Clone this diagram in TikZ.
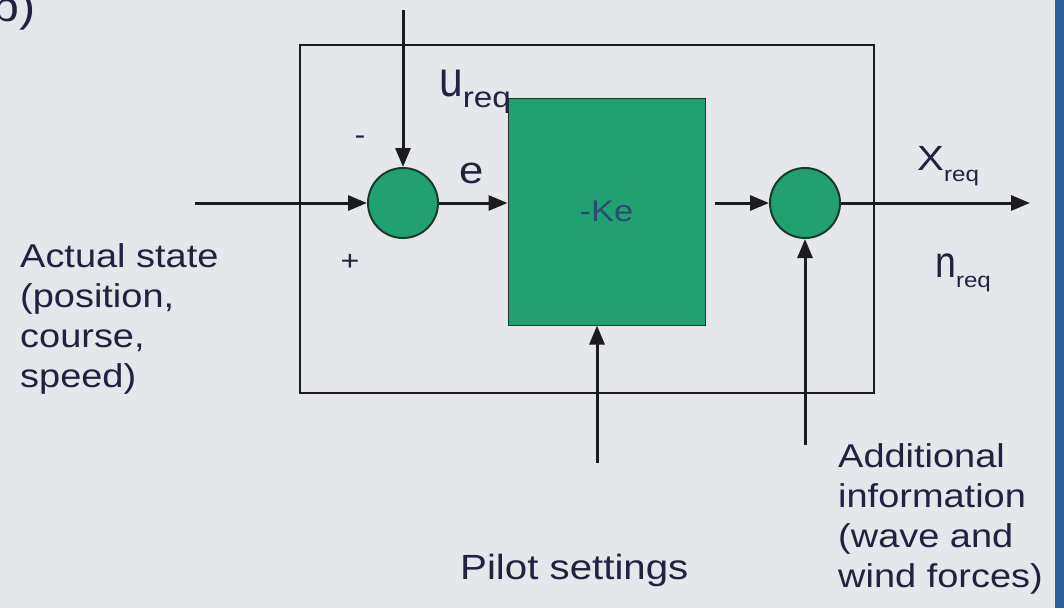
\documentclass[tikz,border=0pt]{standalone}
\usepackage{fontspec}
\setmainfont{Liberation Sans}[FakeStretch=1.15]
\newfontfamily\narrowfont{Liberation Sans}[FakeStretch=0.85]
\usetikzlibrary{arrows.meta}
\definecolor{bg}{HTML}{E5E7EB}
\definecolor{strip}{HTML}{2D5E9A}
\definecolor{gfill}{HTML}{21A072}
\definecolor{gedge}{HTML}{1A3A2C}
\definecolor{ink}{HTML}{22223F}
\definecolor{kelab}{HTML}{2C4C6C}
\definecolor{linec}{HTML}{1C1C1C}
\tikzset{
  arr/.style={line width=3pt, draw=linec, -{Triangle[length=19pt,width=15pt]}},
  sum/.style={circle, minimum size=70pt, inner sep=0pt, fill=gfill, draw=gedge, line width=2pt},
  gbox/.style={rectangle, fill=gfill, draw=gedge, line width=1pt, inner sep=0pt, text=kelab,
    font=\fontsize{30}{30}\selectfont},
  lbl/.style={text=ink, inner sep=0pt, font=\fontsize{33}{40}\selectfont, align=left},
  sgn/.style={text=ink, inner sep=0pt, font=\fontsize{28}{28}\selectfont}
}
\begin{document}
\begin{tikzpicture}[x=1pt,y=-1pt]
\useasboundingbox (0,0) rectangle (1064,608);
\clip (0,0) rectangle (1064,608);
\fill[bg] (0,0) rectangle (1064,608);
\fill[strip] (1055,0) rectangle (1064,608);
% partially cut corner label
\node[text=ink, inner sep=0pt, anchor=base west, font=\fontsize{42}{42}\selectfont] (corner) at (-8,21) {b)};
% frame
\node[draw=linec, line width=2pt, minimum width=574pt, minimum height=348pt, inner sep=0pt] (frame) at (587,219) {};
% label partly hidden by the block
\node[text=ink, inner sep=0pt, anchor=base west] (ureq) at (439,96)
  {{\narrowfont\fontsize{50}{50}\selectfont u}\raisebox{-11pt}{\fontsize{29}{29}\selectfont req}};
% blocks
\node[gbox, minimum width=197pt, minimum height=227pt] (K) at (606.5,211.5) {-Ke};
\node[sum] (s1) at (403,203) {};
\node[sum] (s2) at (805,203) {};
% free ends
\coordinate (in1) at (195,203);
\coordinate (top1) at (403,10);
\coordinate (kout) at (715,203);
\coordinate (out) at (1030,203);
\coordinate (pil) at (597,463);
\coordinate (add) at (805,445);
% connectors
\draw[arr] (in1) -- (s1.west);
\draw[arr] (top1) -- (s1.north);
\draw[arr] (s1.east) -- (K.west |- s1.east);
\draw[arr] (kout) -- (s2.west);
\draw[arr] (s2.east) -- (out);
\draw[arr] (pil) -- (pil |- K.south);
\draw[arr] (add) -- (s2.south);
% labels
\node[lbl, anchor=north west] (actual) at (20,243) {Actual state\\(position,\\course,\\speed)};
\node[lbl, anchor=north west] (addl) at (838,443) {Additional\\information\\(wave and\\wind forces)};
\node[lbl, anchor=base west, font=\fontsize{35}{40}\selectfont] (pilot) at (460,579) {Pilot settings};
\node[text=ink, inner sep=0pt, anchor=base west] (xreq) at (917,170)
  {{\fontsize{35}{35}\selectfont X}\raisebox{-11pt}{\fontsize{21}{21}\selectfont req}};
\node[text=ink, inner sep=0pt, anchor=base west] (nreq) at (935,277)
  {{\narrowfont\fontsize{44}{44}\selectfont n}\raisebox{-10pt}{\fontsize{21}{21}\selectfont req}};
\node[text=ink, inner sep=0pt, anchor=base, font=\fontsize{38}{38}\selectfont] (elab) at (472,183) {e};
\node[sgn] (minus) at (360,140) {-};
\node[sgn] (plus) at (350,262) {+};
\end{tikzpicture}
\end{document}
